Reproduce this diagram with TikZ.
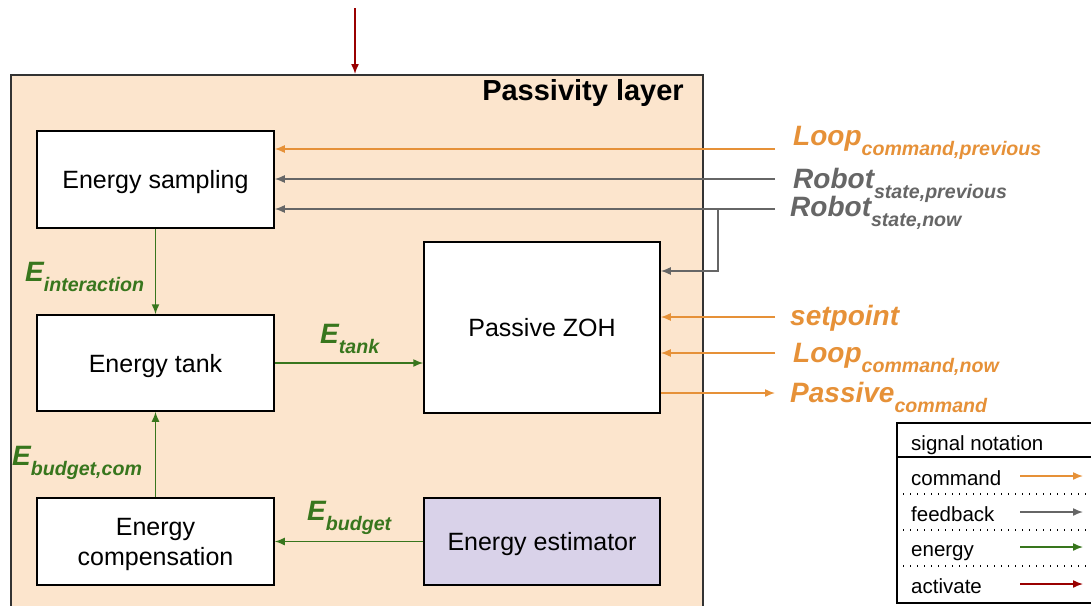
\documentclass[tikz,border=0pt]{standalone}
\usepackage{fontspec}
\setmainfont{Liberation Sans}
\usetikzlibrary{arrows.meta}
\definecolor{cmdorange}{HTML}{E69138}
\definecolor{fbgray}{HTML}{666666}
\definecolor{engreen}{HTML}{38761D}
\definecolor{actred}{HTML}{990000}
\definecolor{layerfill}{HTML}{FCE5CD}
\definecolor{estfill}{HTML}{D9D2E9}
\newcommand{\siglbl}[2]{{\fontsize{28}{30}\selectfont #1}\raisebox{-10pt}{\fontsize{19.6}{20}\selectfont #2}}
\begin{document}
\begin{tikzpicture}[x=1pt,y=-1pt,
    blk/.style={draw=black, line width=1.5pt, fill=white, minimum width=237pt, inner sep=0pt, align=center, text depth=0pt, font=\fontsize{25}{30}\selectfont},
    sig/.style={line width=1.5pt, -{Latex[length=10pt,width=8pt]}},
    cmd/.style={sig, draw=cmdorange},
    fbk/.style={sig, draw=fbgray},
    nrg/.style={sig, draw=engreen},
    act/.style={sig, draw=actred},
    lbl/.style={anchor=base west, inner sep=0pt, font=\bfseries\itshape},
    legtxt/.style={anchor=base west, inner sep=0pt, font=\fontsize{20.5}{24}\selectfont},
    legdot/.style={line width=1.3pt, dash pattern=on 1.2pt off 5.8pt}]
    \useasboundingbox (0,0) rectangle (1091,605);
    % passivity layer
    \node[draw=black!80, line width=1.6pt, fill=layerfill, minimum width=692pt, minimum height=566pt, anchor=north west] (layer) at (10,74) {};
    \node[anchor=base east, inner sep=0pt, font=\bfseries\fontsize{29}{32}\selectfont] (title) at (684,100) {Passivity layer};
    \coordinate (actin) at (355,8);
    \draw[act] (actin) -- (actin |- layer.north);
    % blocks
    \node[blk, minimum height=97pt] (sampling) at (155.5,179.5) {Energy sampling};
    \node[blk, minimum height=96pt] (tank) at (155.5,363) {Energy tank};
    \node[blk, minimum height=87pt] (comp) at (155.5,541.5) {Energy\\compensation};
    \node[blk, minimum width=236pt, minimum height=171pt] (zoh) at (542,327.5) {Passive ZOH};
    \node[blk, minimum width=236pt, minimum height=87pt, fill=estfill] (estim) at (542,541.5) {Energy estimator};
    % energy flow
    \draw[nrg] (sampling.south) -- (tank.north);
    \draw[nrg] (tank.east) -- (zoh.west |- tank.east);
    \draw[nrg] (comp.north) -- (tank.south);
    \draw[nrg] (estim.west) -- (comp.east);
    \node[lbl, text=engreen] (einter) at (25,281) {\siglbl{E}{interaction}};
    \node[lbl, text=engreen] (etank) at (320,343) {\siglbl{E}{tank}};
    \node[lbl, text=engreen] (ebcom) at (12,465) {\siglbl{E}{budget,com}};
    \node[lbl, text=engreen] (ebud) at (307,520) {\siglbl{E}{budget}};
    % external signals
    \coordinate (loopprev) at (775,149);
    \coordinate (robprev) at (775,179);
    \coordinate (robnow) at (775,209);
    \coordinate (branch) at (718,209);
    \coordinate (setp) at (775,317);
    \coordinate (loopnow) at (775,353);
    \coordinate (passout) at (775,393);
    \draw[cmd] (loopprev) -- (sampling.east |- loopprev);
    \draw[fbk] (robprev) -- (sampling.east |- robprev);
    \draw[fbk] (robnow) -- (sampling.east |- robnow);
    \draw[fbk] (branch) |- (zoh.east |- 0,271);
    \draw[cmd] (setp) -- (zoh.east |- setp);
    \draw[cmd] (loopnow) -- (zoh.east |- loopnow);
    \draw[cmd] (zoh.east |- passout) -- (passout);
    \node[lbl, text=cmdorange] (lloopprev) at (793,145) {\siglbl{Loop}{command,previous}};
    \node[lbl, text=fbgray] (lrobprev) at (793,188) {\siglbl{Robot}{state,previous}};
    \node[lbl, text=fbgray] (lrobnow) at (790,216) {\siglbl{Robot}{state,now}};
    \node[lbl, text=cmdorange] (lsetp) at (790,325) {\siglbl{setpoint}{}};
    \node[lbl, text=cmdorange] (lloopnow) at (793,362) {\siglbl{Loop}{command,now}};
    \node[lbl, text=cmdorange] (lpass) at (790,402) {\siglbl{Passive}{command}};
    % legend
    \node[draw=black, line width=1.5pt, minimum width=220pt, minimum height=180pt, anchor=north west] (legend) at (896,422) {};
    \node[legtxt] (leghead) at (911,450) {signal notation};
    \draw[line width=1.5pt] (legend.west |- 0,457) -- (legend.east |- 0,457);
    \foreach \yy in {494,530,566}
        \draw[legdot] (legend.west |- 0,\yy) -- (legend.east |- 0,\yy);
    \foreach \txt/\col/\yy in {command/cmdorange/476, feedback/fbgray/512, energy/engreen/547, activate/actred/584} {
        \node[legtxt] (leg-\txt) at (911,\yy+9) {\txt};
        \coordinate (legs-\txt) at (1020,\yy);
        \coordinate (lege-\txt) at (1083,\yy);
        \draw[sig, draw=\col] (legs-\txt) -- (lege-\txt);
    }
\end{tikzpicture}
\end{document}
